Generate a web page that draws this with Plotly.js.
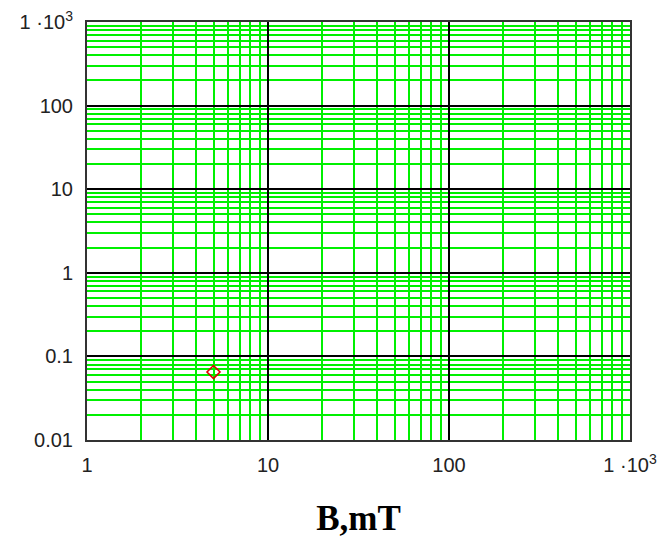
<!DOCTYPE html>
<html>
<head>
<meta charset="utf-8">
<script src="https://cdn.plot.ly/plotly-3.0.1.min.js"></script>
<style>html,body{margin:0;padding:0;background:#fff;}</style>
</head>
<body>
<div id="chart" style="width:660px;height:541px;"></div>
<script>
// data
const pointB = [5];
const pointY = [0.065];
const xTickVals = [1, 10, 100, 1000];
const xTickText = ['1', '10', '100', '1 ·10<sup>3</sup>'];
const yTickVals = [0.01, 0.1, 1, 10, 100, 1000];
const yTickText = ['0.01', '0.1', '1', '10', '100', '1 ·10<sup>3</sup>'];
const xTitle = 'B,mT';

const trace = {
  x: pointB, y: pointY, type: 'scatter', mode: 'markers',
  marker: {symbol: 'diamond-open', size: 10, color: '#e00000', line: {width: 1.6, color: '#e00000'}},
  showlegend: false, hoverinfo: 'none'
};

const tickFont = {family: 'Liberation Sans, Arial, sans-serif', size: 20, color: '#222'};

const layout = {
  width: 660, height: 541,
  margin: {l: 87, r: 30, t: 22, b: 101},
  paper_bgcolor: '#fff', plot_bgcolor: '#fff',
  xaxis: {
    type: 'log', range: [0, 3],
    tickmode: 'array', tickvals: xTickVals, ticktext: xTickText,
    tickfont: tickFont, ticks: '', ticklen: 0, ticklabelstandoff: 6,
    showgrid: true, gridcolor: '#000', gridwidth: 2,
    minor: {showgrid: true, gridcolor: '#00f000', gridwidth: 2, dtick: 'D1', ticks: ''},
    showline: true, linecolor: '#333', linewidth: 2, mirror: true,
    zeroline: false, automargin: false,
    title: {text: xTitle, font: {family: 'Liberation Serif, Times New Roman, serif', size: 35, color: '#000', weight: 'bold'}, standoff: 30}
  },
  yaxis: {
    type: 'log', range: [-2, 3],
    tickmode: 'array', tickvals: yTickVals, ticktext: yTickText,
    tickfont: tickFont, ticks: '', ticklen: 0, ticklabelstandoff: 8,
    showgrid: true, gridcolor: '#000', gridwidth: 2,
    minor: {showgrid: true, gridcolor: '#00f000', gridwidth: 2, dtick: 'D1', ticks: ''},
    showline: true, linecolor: '#333', linewidth: 2, mirror: true,
    zeroline: false, automargin: false
  }
};

Plotly.newPlot('chart', [trace], layout, {displayModeBar: false, staticPlot: true});
</script>
</body>
</html>
